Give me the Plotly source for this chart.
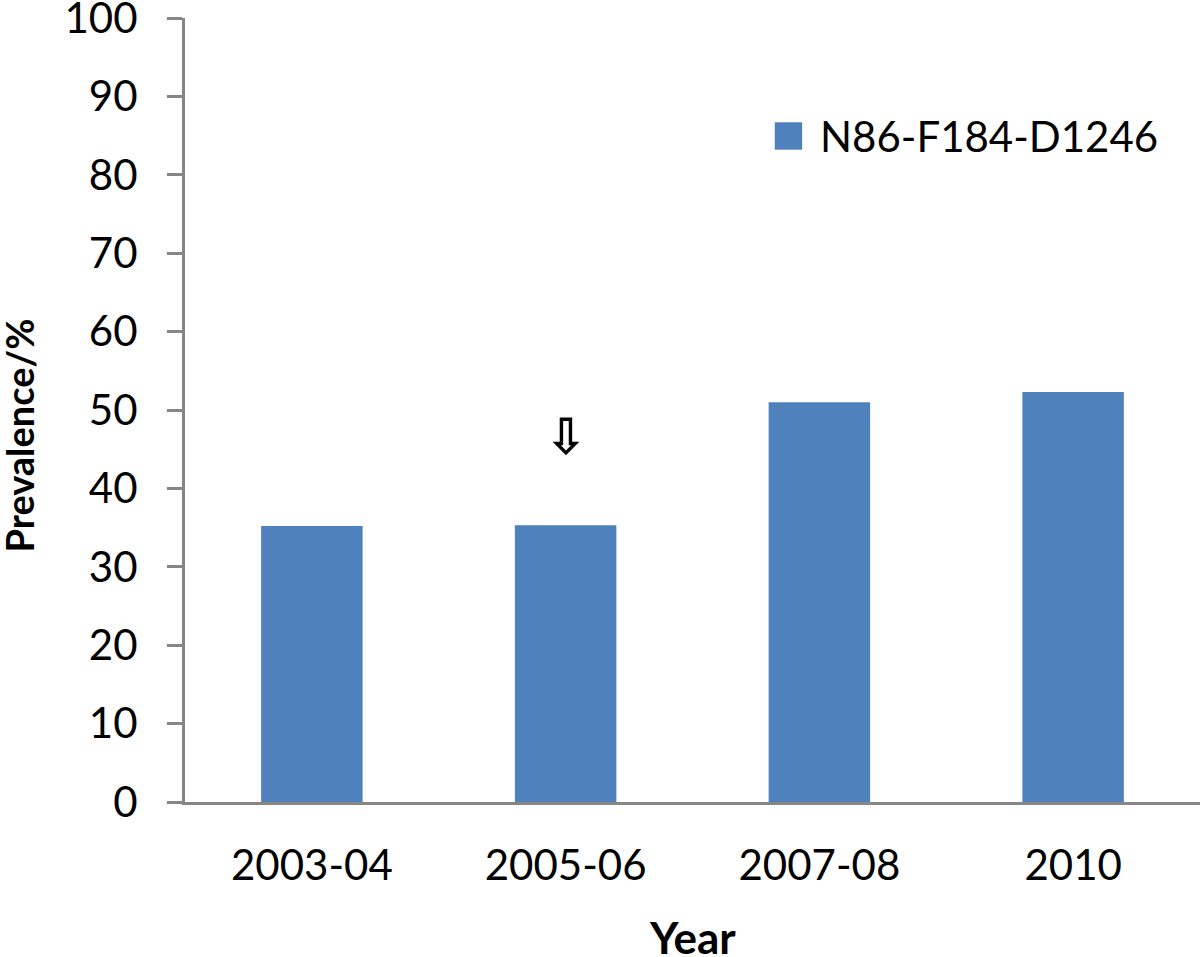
import plotly.graph_objects as go

# Data
years = ["2003-04", "2005-06", "2007-08", "2010"]
prevalence = [35.2, 35.3, 51.0, 52.3]
series_name = "N86-F184-D1246"
x_title = "Year"
y_title = "Prevalence/%"
arrow_year = "2005-06"
arrow_value = 42.6
y_ticks = list(range(0, 101, 10))

FONT = "Lato"
AXIS_COLOR = "#868686"
BAR_COLOR = "#4f81bd"

fig = go.Figure()
fig.add_trace(go.Bar(
    x=years, y=prevalence, name=series_name,
    marker=dict(color=BAR_COLOR, line=dict(width=0)),
    showlegend=False,
))

fig.update_layout(
    width=1200, height=957,
    margin=dict(l=185, r=0, t=18, b=155),
    paper_bgcolor="white", plot_bgcolor="white",
    bargap=0.6,
    font=dict(family=FONT, color="black", size=42),
)

fig.update_xaxes(
    type="category", automargin=False,
    showline=True, linecolor=AXIS_COLOR, linewidth=3,
    ticks="", showgrid=False, zeroline=False,
    tickfont=dict(family=FONT, size=42, color="black"),
    ticklabelstandoff=25,
)
fig.update_yaxes(
    range=[0, 100], tickvals=y_ticks, automargin=False,
    ticklabeloverflow="allow",
    showline=True, linecolor=AXIS_COLOR, linewidth=3,
    ticks="outside", ticklen=15, tickwidth=3, tickcolor=AXIS_COLOR,
    showgrid=False, zeroline=False,
    tickfont=dict(family=FONT, size=42, color="black"),
    ticklabelstandoff=21,
)

# Axis titles
fig.add_annotation(
    x=0.5, y=-0.172, xref="paper", yref="paper",
    text=f"<b>{x_title}</b>", showarrow=False, xanchor="center", yanchor="middle",
    font=dict(family=FONT, size=44, color="black"),
)
fig.add_annotation(
    x=-0.164, y=0.467, xref="paper", yref="paper",
    text=f"<b>{y_title}</b>", showarrow=False, textangle=-90,
    xanchor="center", yanchor="middle",
    font=dict(family=FONT, size=38, color="black"),
)

# Arrow marker above the 2005-06 bar
fig.add_annotation(
    x=arrow_year, y=arrow_value, xref="x", yref="y",
    text="<b>⇩</b>", showarrow=False, yanchor="bottom",
    font=dict(family="DejaVu Sans", size=50, color="black"),
)

# Legend (drawn manually to match large swatch)
fig.add_shape(type="rect", xref="paper", yref="paper",
              x0=0.581, x1=0.608, y0=0.832, y1=0.867,
              fillcolor=BAR_COLOR, line=dict(width=0))
fig.add_annotation(
    x=0.6236, y=0.849, xref="paper", yref="paper",
    text=series_name, showarrow=False, xanchor="left", yanchor="middle",
    font=dict(family=FONT, size=42, color="black"),
)

fig.write_html(
    "out.html",
    config={"displayModeBar": False},
    post_script="document.body.style.margin='0';document.body.style.overflow='hidden';",
)
